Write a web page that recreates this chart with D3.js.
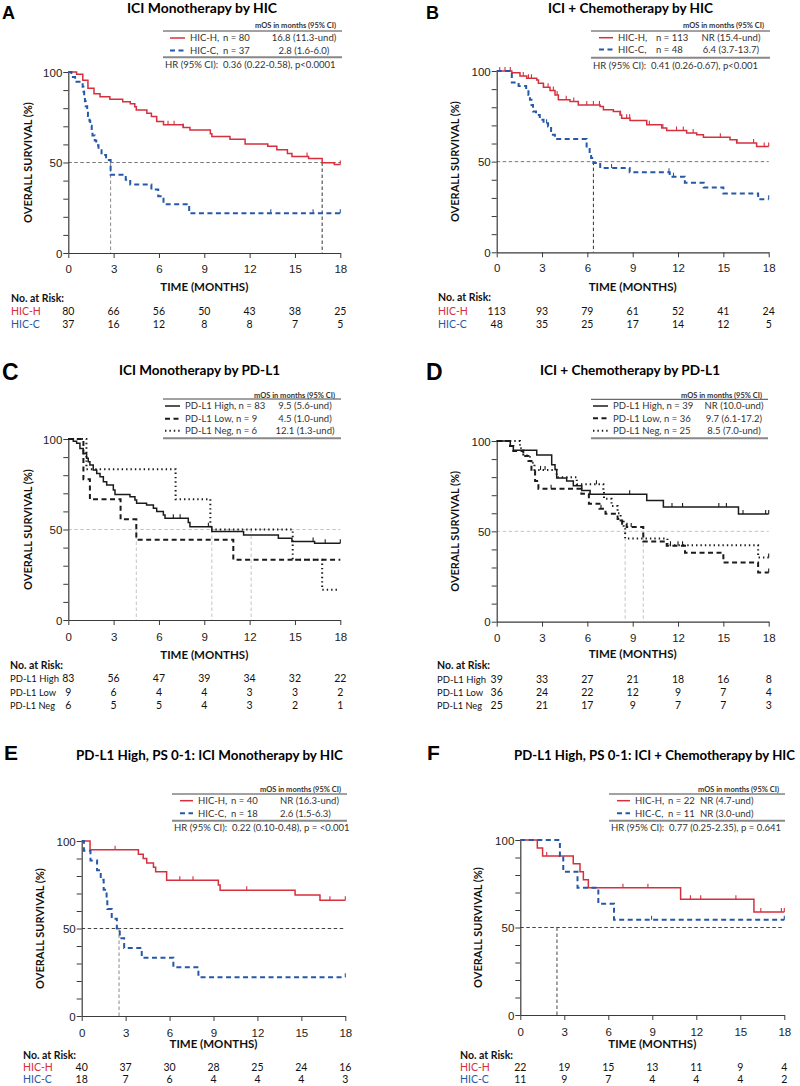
<!DOCTYPE html>
<html><head><meta charset="utf-8">
<script src="https://cdn.jsdelivr.net/npm/d3@7"></script>
<style>body{margin:0;background:#fff}svg{display:block}</style>
</head><body><svg id="c" width="800" height="1086"></svg>
<script>
// ---------- DATA ----------
const monthTicks = [0, 3, 6, 9, 12, 15, 18];
const survTicks = [0, 10, 20, 30, 40, 50, 60, 70, 80, 90, 100];
const survLabels = [0, 50, 100];

// Panel A – ICI monotherapy by HIC  ([time, survival after drop])
const kmA_H = [[0.55,98.8],[0.96,95.4],[1.3,91],[1.7,88],[2.1,86.3],[2.75,84.9],[3.6,83.6],[4.1,82.4],[4.4,80.8],[4.5,79],[5.2,77.2],[5.5,75.4],[5.85,72.6],[6.3,70.8],[7.6,69.4],[8.05,68],[9.4,65.9],[9.5,64.4],[10.7,62.9],[11.7,60.2],[13.2,59],[13.8,57.1],[14.5,55],[14.8,53.3],[15.9,52.2],[16.8,49.9],[17.6,48.9]];
const cenA_H = [6.6, 7.0, 7.6, 15.8, 18];
const kmA_C = [[0.2,97.3],[0.45,94.6],[0.95,91.9],[1.0,89.2],[1.05,86.5],[1.1,83.8],[1.15,81.1],[1.25,78.4],[1.3,75.7],[1.4,73],[1.45,70.3],[1.55,67.6],[1.6,64.9],[1.75,62.2],[1.85,59.5],[2.0,56.8],[2.2,54.1],[2.5,51.4],[2.8,43.2],[3.8,40.5],[4.1,37.8],[5.5,35.1],[5.95,31.4],[6.3,27],[8.0,21.9]];
const cenA_C = [13.4, 16.2, 18];
const riskA_H = [80, 66, 56, 50, 43, 38, 25];
const riskA_C = [37, 16, 12, 8, 8, 7, 5];

// Panel B – ICI + chemotherapy by HIC
const kmB_H = [[1.0,99.1],[1.54,97.3],[1.99,96],[2.65,95.1],[2.76,93.2],[3.09,91],[3.53,89.2],[3.86,86.8],[4.08,84.1],[4.85,83.2],[5.4,81.3],[6.84,80.4],[7.06,78.6],[7.72,77.7],[8.16,75.8],[8.27,74],[8.82,72.7],[9.93,70.3],[10.92,68.5],[11.25,67.2],[12.57,65.8],[13.24,64.8],[13.68,63.4],[15.44,62.1],[15.88,60.3],[17.2,58.4]];
const cenB_H = [0.2,0.55,0.9,1.76,2.1,2.3,3.1,3.4,3.75,4.0,4.6,5.1,5.96,6.4,6.8,8.2,8.6,8.8,10.1,11.0,11.9,12.35,13.0,14.8,15.9,17.0,17.7,18];
const kmB_C = [[1.0,93.6],[1.45,91.7],[1.95,89.6],[2.1,86.8],[2.2,84.1],[2.3,81.3],[2.4,77.7],[2.6,75.8],[2.85,73.1],[3.1,71.2],[3.4,69.4],[3.6,64.8],[3.85,62.5],[5.95,57.5],[6.15,53.8],[6.25,52],[6.4,49.3],[6.85,46.5],[8.8,44.1],[11.45,41.7],[12.45,38.4],[13.7,35.8],[15.0,32.5],[17.3,29.2]];
const cenB_C = [3.3, 7.6, 11.4, 11.7, 18];
const riskB_H = [113, 93, 79, 61, 52, 41, 24];
const riskB_C = [48, 35, 25, 17, 14, 12, 5];

// Panel C – ICI monotherapy by PD-L1
const kmC_High = [[0.33,98.8],[0.55,97.6],[0.77,94.8],[0.99,92],[1.21,89.3],[1.32,87.5],[1.43,85.6],[1.65,82.9],[1.88,81],[2.1,79.2],[2.32,76.4],[2.54,74.6],[2.98,71.8],[3.09,69.4],[4.08,68.1],[4.41,66.3],[4.52,64.5],[5.18,63.5],[5.63,61.7],[5.85,59.9],[6.29,58],[6.4,56.2],[7.94,53.8],[8.05,51.5],[9.5,48.9],[11.6,47],[13.9,45.2],[14.8,43.4],[16.3,42.4]];
const cenC_High = [6.95, 7.4, 9.27, 16.2, 17.0, 18];
const kmC_Low = [[1.0,77.8],[1.43,66.7],[3.46,55.6],[4.5,44.4],[10.92,33.3]];
const cenC_Low = [];
const kmC_Neg = [[1.2,83.3],[7.1,66.7],[9.4,50],[14.85,33.3],[16.8,16.7]];
const cenC_Neg = [];
const riskC_High = [83, 56, 47, 39, 34, 32, 22];
const riskC_Low = [9, 6, 4, 4, 3, 3, 2];
const riskC_Neg = [6, 5, 5, 4, 3, 2, 1];

// Panel D – ICI + chemotherapy by PD-L1
const kmD_High = [[0.9,97.4],[1.1,94.9],[2.65,92.3],[3.64,86.9],[3.86,84.2],[3.97,79.5],[4.63,77.9],[5.07,75.2],[5.63,72.6],[6.18,70.5],[9.93,67.1],[11.03,63.5],[16.0,59.6]];
const cenD_High = [8.8, 11.6, 12.3, 14.7, 15.2, 16.3, 17.8, 18];
const kmD_Low = [[0.88,97.2],[1.1,94.4],[1.76,91.7],[2.1,88.9],[2.3,83.3],[2.54,77.8],[2.76,73.6],[5.6,70.8],[6.1,65.3],[6.8,62.5],[7.2,59.7],[8.0,56.9],[8.3,54.2],[8.6,52.4],[9.7,44.4],[11.25,42],[12.46,38.2],[15.0,32.7],[17.3,27.2]];
const cenD_Low = [3.6, 6.9, 8.9, 18];
const kmD_Neg = [[1.54,96],[1.76,92],[2.2,88],[2.5,84],[3.97,80],[5.3,76],[7.06,72],[7.1,68],[7.6,64],[8.0,60],[8.2,56],[8.4,52],[8.5,46],[11.3,42.3],[17.3,35.5]];
const cenD_Neg = [2.9, 3.2, 6.6, 11.5, 12.0, 12.3, 18];
const riskD_High = [39, 33, 27, 21, 18, 16, 8];
const riskD_Low = [36, 24, 22, 12, 9, 7, 4];
const riskD_Neg = [25, 21, 17, 9, 7, 7, 3];

// Panel E – PD-L1 high, PS 0-1: ICI monotherapy by HIC
const kmE_H = [[0.57,95],[3.87,92.5],[4.2,90],[4.44,87.5],[4.9,85],[5.05,82.5],[5.8,77.6],[9.33,74.8],[9.45,71.9],[14.57,69.1],[16.27,66.2]];
const cenE_H = [2.28, 6.7, 7.6, 11.27, 16.95, 18];
const kmE_C = [[0.15,94.4],[0.6,88.9],[1.05,83.3],[1.3,77.8],[1.5,72.2],[1.7,66.7],[1.75,61.1],[2.05,55.6],[2.4,50],[2.6,44.4],[2.9,38.9],[4.1,33.3],[6.26,27.8],[7.97,22.2]];
const cenE_C = [18];
const riskE_H = [40, 37, 30, 28, 25, 24, 16];
const riskE_C = [18, 7, 6, 4, 4, 4, 3];

// Panel F – PD-L1 high, PS 0-1: ICI + chemotherapy by HIC
const kmF_H = [[1.16,95.5],[1.52,90.9],[3.61,86.4],[4.07,81.8],[4.3,77.3],[4.64,72.7],[10.93,66.1],[15.93,58.9]];
const cenF_H = [1.8, 7.0, 8.7, 11.6, 12.3, 14.7, 16.4, 17.8, 18];
const kmF_C = [[2.7,90.9],[2.93,81.8],[3.9,72.7],[5.32,63.6],[6.39,54.5]];
const cenF_C = [8.95, 18];
const riskF_H = [22, 19, 15, 13, 11, 9, 4];
const riskF_C = [11, 9, 7, 4, 4, 4, 2];

// ---------- STYLE / LAYOUT ----------
const RED = "#d62f3d", BLUE = "#2558a8", BLK = "#1b1b1b";
const SANS = "Lato, 'Open Sans', sans-serif";
const ARIAL = "'Liberation Sans', Arial, sans-serif";
const solid = {dash: null, width: 1.5};
const dashed = {dash: "5,3.5", width: 2};
const dotted = {dash: "1.4,3", width: 2};

const panels = [
 {letter:"A", lx:2, ly:19, ls:18, title:"ICI Monotherapy by HIC", tx:127, tw:150, ts:14, ty:13,
  x0:68.3, x1:340.3, yTop:72, yBot:253, yLabX:28, tickY:269, timeY:287, riskHeadY:298, riskYs:[311,324.5], riskLX:11,
  leg:{x0:163, x1:342, headY:25, topY:31, rowYs:[38,50.5], botY:57.3, hrY:65, sample:[7,22], lab:27, nx:60, valMode:"middle", val:-38},
  hr:"HR (95% CI):  0.36 (0.22-0.58), p<0.0001", h50:"#777", vl:[{t:2.8,c:"#8a8a8a"},{t:16.8,c:"#333"}],
  series:[
   {km:kmA_H, cen:cenA_H, col:RED, st:solid, lab:"HIC-H,", n:"n = 80", mos:"16.8 (11.3-und)", risk:riskA_H, rl:"HIC-H"},
   {km:kmA_C, cen:cenA_C, col:BLUE, st:dashed, lab:"HIC-C,", n:"n = 37", mos:"2.8 (1.6-6.0)", risk:riskA_C, rl:"HIC-C"}]},
 {letter:"B", lx:426, ly:19, ls:18, title:"ICI + Chemotherapy by HIC", tx:548, tw:165, ts:14, ty:12.5,
  x0:496.7, x1:768.7, yTop:71, yBot:252.3, yLabX:455, tickY:268.3, timeY:287, riskHeadY:297.7, riskYs:[311,324.3], riskLX:438,
  leg:{x0:591, x1:770, headY:25, topY:31, rowYs:[37.7,49.5], botY:57.7, hrY:65.3, sample:[8,22], lab:27, nx:65, valMode:"middle", val:-39},
  hr:"HR (95% CI):  0.41 (0.26-0.67), p<0.001", h50:"#777", vl:[{t:6.4,c:"#333"}],
  series:[
   {km:kmB_H, cen:cenB_H, col:RED, st:solid, lab:"HIC-H,", n:"n = 113", mos:"NR (15.4-und)", risk:riskB_H, rl:"HIC-H"},
   {km:kmB_C, cen:cenB_C, col:BLUE, st:dashed, lab:"HIC-C,", n:"n = 48", mos:"6.4 (3.7-13.7)", risk:riskB_C, rl:"HIC-C"}]},
 {letter:"C", lx:2, ly:380, ls:23, title:"ICI Monotherapy by PD-L1", tx:119, tw:161, ts:14, ty:375,
  x0:68.3, x1:340.3, yTop:439, yBot:620, yLabX:28, tickY:636.7, timeY:655, riskHeadY:665, riskYs:[678.7,692,705], riskLX:10,
  leg:{x0:163, x1:341, headY:395, topY:399, rowYs:[406,418.7,430.7], botY:438.3, sample:[2,17], lab:22, valMode:"middle", val:-36},
  hr:null, h50:"#c4c4c4", vl:[{t:4.5,c:"#c4c4c4"},{t:9.5,c:"#c4c4c4"},{t:12.1,c:"#c4c4c4"}],
  series:[
   {km:kmC_High, cen:cenC_High, col:BLK, st:solid, lab:"PD-L1 High, n = 83", mos:"9.5 (5.6-und)", risk:riskC_High, rl:"PD-L1 High"},
   {km:kmC_Low, cen:cenC_Low, col:BLK, st:dashed, lab:"PD-L1 Low, n = 9", mos:"4.5 (1.0-und)", risk:riskC_Low, rl:"PD-L1 Low"},
   {km:kmC_Neg, cen:cenC_Neg, col:BLK, st:dotted, lab:"PD-L1 Neg, n = 6", mos:"12.1 (1.3-und)", risk:riskC_Neg, rl:"PD-L1 Neg", end:17.85}]},
 {letter:"D", lx:426, ly:380, ls:23, title:"ICI + Chemotherapy by PD-L1", tx:540, tw:180, ts:14, ty:375,
  x0:496.7, x1:768.7, yTop:441, yBot:621.7, yLabX:455, tickY:637.7, timeY:654.3, riskHeadY:665, riskYs:[679,692.3,705], riskLX:437,
  leg:{x0:591, x1:768, headY:395, topY:399.3, rowYs:[406,418.3,430.7], botY:438.3, sample:[2,17], lab:22, valMode:"middle", val:-34},
  hr:null, h50:"#c4c4c4", vl:[{t:8.5,c:"#c4c4c4"},{t:9.7,c:"#c4c4c4"}],
  series:[
   {km:kmD_High, cen:cenD_High, col:BLK, st:solid, lab:"PD-L1 High, n = 39", mos:"NR (10.0-und)", risk:riskD_High, rl:"PD-L1 High"},
   {km:kmD_Low, cen:cenD_Low, col:BLK, st:dashed, lab:"PD-L1 Low, n = 36", mos:"9.7 (6.1-17.2)", risk:riskD_Low, rl:"PD-L1 Low"},
   {km:kmD_Neg, cen:cenD_Neg, col:BLK, st:dotted, lab:"PD-L1 Neg, n = 25", mos:"8.5 (7.0-und)", risk:riskD_Neg, rl:"PD-L1 Neg"}]},
 {letter:"E", lx:4, ly:760, ls:21, title:"PD-L1 High, PS 0-1: ICI Monotherapy by HIC", tx:76, tw:267, ts:14, ty:759.5,
  x0:81.7, x1:345.3, yTop:841, yBot:1016, yLabX:40, tickY:1032.7, timeY:1044.3, riskHeadY:1055, riskYs:[1067.5,1079.5], riskLX:23,
  leg:{x0:172, x1:347, headY:789, topY:794, rowYs:[800.7,813.3], botY:820.7, hrY:827.7, sample:[8,21], lab:26, nx:59, valMode:"start", val:108},
  hr:"HR (95% CI):  0.22 (0.10-0.48), p = <0.001", h50:"#444", vl:[{t:2.55,c:"#8a8a8a"}],
  series:[
   {km:kmE_H, cen:cenE_H, col:RED, st:solid, lab:"HIC-H,", n:"n = 40", mos:"NR (16.3-und)", risk:riskE_H, rl:"HIC-H"},
   {km:kmE_C, cen:cenE_C, col:BLUE, st:dashed, lab:"HIC-C,", n:"n = 18", mos:"2.6 (1.5-6.3)", risk:riskE_C, rl:"HIC-C"}]},
 {letter:"F", lx:427, ly:760, ls:21, title:"PD-L1 High, PS 0-1: ICI + Chemotherapy by HIC", tx:514, tw:281, ts:13, ty:759.5,
  x0:520.3, x1:784.3, yTop:840, yBot:1015, yLabX:478, tickY:1031.7, timeY:1044, riskHeadY:1055, riskYs:[1067.5,1079.5], riskLX:460,
  leg:{x0:609, x1:785, headY:789, topY:794, rowYs:[800.7,813.3], botY:820.7, hrY:827.7, sample:[8,21], lab:26, nx:59, valMode:"start", val:91},
  hr:"HR (95% CI):  0.77 (0.25-2.35), p = 0.641", h50:"#444", vl:[{t:2.5,c:"#444"}],
  series:[
   {km:kmF_H, cen:cenF_H, col:RED, st:solid, lab:"HIC-H,", n:"n = 22", mos:"NR (4.7-und)", risk:riskF_H, rl:"HIC-H"},
   {km:kmF_C, cen:cenF_C, col:BLUE, st:dashed, lab:"HIC-C,", n:"n = 11", mos:"NR (3.0-und)", risk:riskF_C, rl:"HIC-C"}]}
];

// ---------- DRAW ----------
const svg = d3.select("#c");
svg.append("rect").attr("width",800).attr("height",1086).attr("fill","#fff");
const AX = "#3a3a3a";

function survAt(km, t){ let s=100; for(const [tt,ss] of km){ if(tt<=t) s=ss; } return s; }

panels.forEach(p=>{
  const g = svg.append("g");
  const x = d3.scaleLinear().domain([0,18]).range([p.x0,p.x1]);
  const y = d3.scaleLinear().domain([0,100]).range([p.yBot,p.yTop]);

  // panel letter & title
  g.append("text").attr("x",p.lx).attr("y",p.ly).attr("font-family",ARIAL).attr("font-weight","bold")
    .attr("font-size",p.ls).attr("fill","#000").text(p.letter);
  g.append("text").attr("x",p.tx).attr("y",p.ty).attr("font-family",SANS)
    .attr("font-weight","bold").attr("font-size",p.ts).attr("fill","#000")
    .attr("textLength",p.tw).attr("lengthAdjust","spacingAndGlyphs").text(p.title);

  // reference lines
  g.append("line").attr("x1",x(0)).attr("x2",x(18)).attr("y1",y(50)).attr("y2",y(50))
    .attr("stroke",p.h50).attr("stroke-width",1).attr("stroke-dasharray","3.5,2.5");
  p.vl.forEach(v=>{
    g.append("line").attr("x1",x(v.t)).attr("x2",x(v.t)).attr("y1",y(50)).attr("y2",y(0))
      .attr("stroke",v.c).attr("stroke-width",1).attr("stroke-dasharray","3.5,2.5");
  });

  // axes
  const xa = g.append("g").attr("transform",`translate(0,${p.yBot})`)
    .call(d3.axisBottom(x).tickValues(monthTicks).tickSize(5).tickSizeOuter(0));
  xa.selectAll("text").attr("y", p.tickY-p.yBot).attr("dy","0.35em");
  const ya = g.append("g").attr("transform",`translate(${p.x0},0)`)
    .call(d3.axisLeft(y).tickValues(survTicks).tickSize(5).tickSizeOuter(0)
      .tickFormat(d=> survLabels.includes(d) ? d : ""));
  ya.selectAll("text").attr("x",-6).attr("dy","0.35em");
  [xa,ya].forEach(a=>{
    a.select(".domain").attr("stroke",AX).attr("stroke-width",1.2);
    a.selectAll(".tick line").attr("stroke",AX).attr("stroke-width",1);
    a.selectAll("text").attr("font-family",ARIAL).attr("font-size",11.5).attr("fill","#222");
  });

  // axis titles
  g.append("text").attr("x",(p.x0+p.x1)/2).attr("y",p.timeY).attr("dy","0.35em").attr("text-anchor","middle")
    .attr("font-family",SANS).attr("font-weight","bold").attr("font-size",11.5).attr("fill","#111").text("TIME (MONTHS)");
  g.append("text").attr("transform",`translate(${p.yLabX},${(p.yTop+p.yBot)/2}) rotate(-90)`).attr("dy","0.35em")
    .attr("text-anchor","middle").attr("font-family",SANS).attr("font-weight","bold").attr("font-size",11)
    .attr("fill","#111").text("OVERALL SURVIVAL (%)");

  // curves
  const line = d3.line().x(d=>x(d[0])).y(d=>y(d[1])).curve(d3.curveStepAfter);
  p.series.forEach(s=>{
    const end = s.end || 18;
    const pts = [[0,100], ...s.km, [end, s.km[s.km.length-1][1]]];
    g.append("path").attr("d",line(pts)).attr("fill","none").attr("stroke",s.col)
      .attr("stroke-width",s.st.width).attr("stroke-dasharray",s.st.dash);
    s.cen.forEach(t=>{
      const v = survAt(s.km,t);
      g.append("line").attr("x1",x(t)).attr("x2",x(t)).attr("y1",y(v)).attr("y2",y(v)-4)
        .attr("stroke",s.col).attr("stroke-width",1.1);
    });
  });

  // legend
  const L = p.leg;
  g.append("text").attr("x", L.x1-6).attr("y",L.headY).attr("dy","0.35em").attr("text-anchor","end")
    .attr("font-family",SANS).attr("font-weight","bold").attr("font-size",7.5).attr("fill","#333").text("mOS in months (95% CI)");
  g.append("line").attr("x1",L.x0).attr("x2",L.x1).attr("y1",L.topY).attr("y2",L.topY).attr("stroke","#444").attr("stroke-width",1);
  g.append("line").attr("x1",L.x0).attr("x2",L.x1).attr("y1",L.botY).attr("y2",L.botY).attr("stroke","#888").attr("stroke-width",2);
  p.series.forEach((s,i)=>{
    const yy = L.rowYs[i];
    g.append("line").attr("x1",L.x0+L.sample[0]).attr("x2",L.x0+L.sample[1]).attr("y1",yy).attr("y2",yy)
      .attr("stroke",s.col).attr("stroke-width",s.st.width).attr("stroke-dasharray",s.st.dash);
    const t = (xx,str,anchor)=> g.append("text").attr("x",xx).attr("y",yy).attr("dy","0.35em").attr("text-anchor",anchor||"start")
      .attr("font-family",SANS).attr("font-size",9.5).attr("fill","#333").text(str);
    t(L.x0+L.lab, s.lab);
    if(s.n) t(L.x0+L.nx, s.n);
    if(L.valMode==="middle") t(L.x1+L.val, s.mos, "middle"); else t(L.x0+L.val, s.mos);
  });
  if(p.hr){
    g.append("text").attr("x",L.x0+2).attr("y",L.hrY).attr("dy","0.35em").attr("font-family",SANS)
      .attr("font-size",9.5).attr("fill","#333").style("white-space","pre").text(p.hr);
  }

  // risk table
  g.append("text").attr("x",p.riskLX).attr("y",p.riskHeadY).attr("dy","0.35em").attr("font-family",SANS)
    .attr("font-weight","bold").attr("font-size",10.5).attr("fill","#111").text("No. at Risk:");
  p.series.forEach((s,i)=>{
    const yy = p.riskYs[i];
    const col = s.col===BLK ? "#111" : s.col;
    const lt = g.append("text").attr("x",p.riskLX).attr("y",yy).attr("dy","0.35em").attr("font-family",SANS)
      .attr("font-size",10.5).attr("fill",col).text(s.rl);
    if(s.rl.startsWith("PD-L1")) lt.attr("font-size",10).attr("textLength", s.rl==="PD-L1 High"?49:(s.rl==="PD-L1 Low"?46:45)).attr("lengthAdjust","spacingAndGlyphs");
    g.selectAll(null).data(s.risk).join("text").attr("x",(d,j)=>x(monthTicks[j])).attr("y",yy).attr("dy","0.35em")
      .attr("text-anchor","middle").attr("font-family",SANS).attr("font-size",10.5).attr("fill","#111").text(d=>d);
  });
});
</script></body></html>
